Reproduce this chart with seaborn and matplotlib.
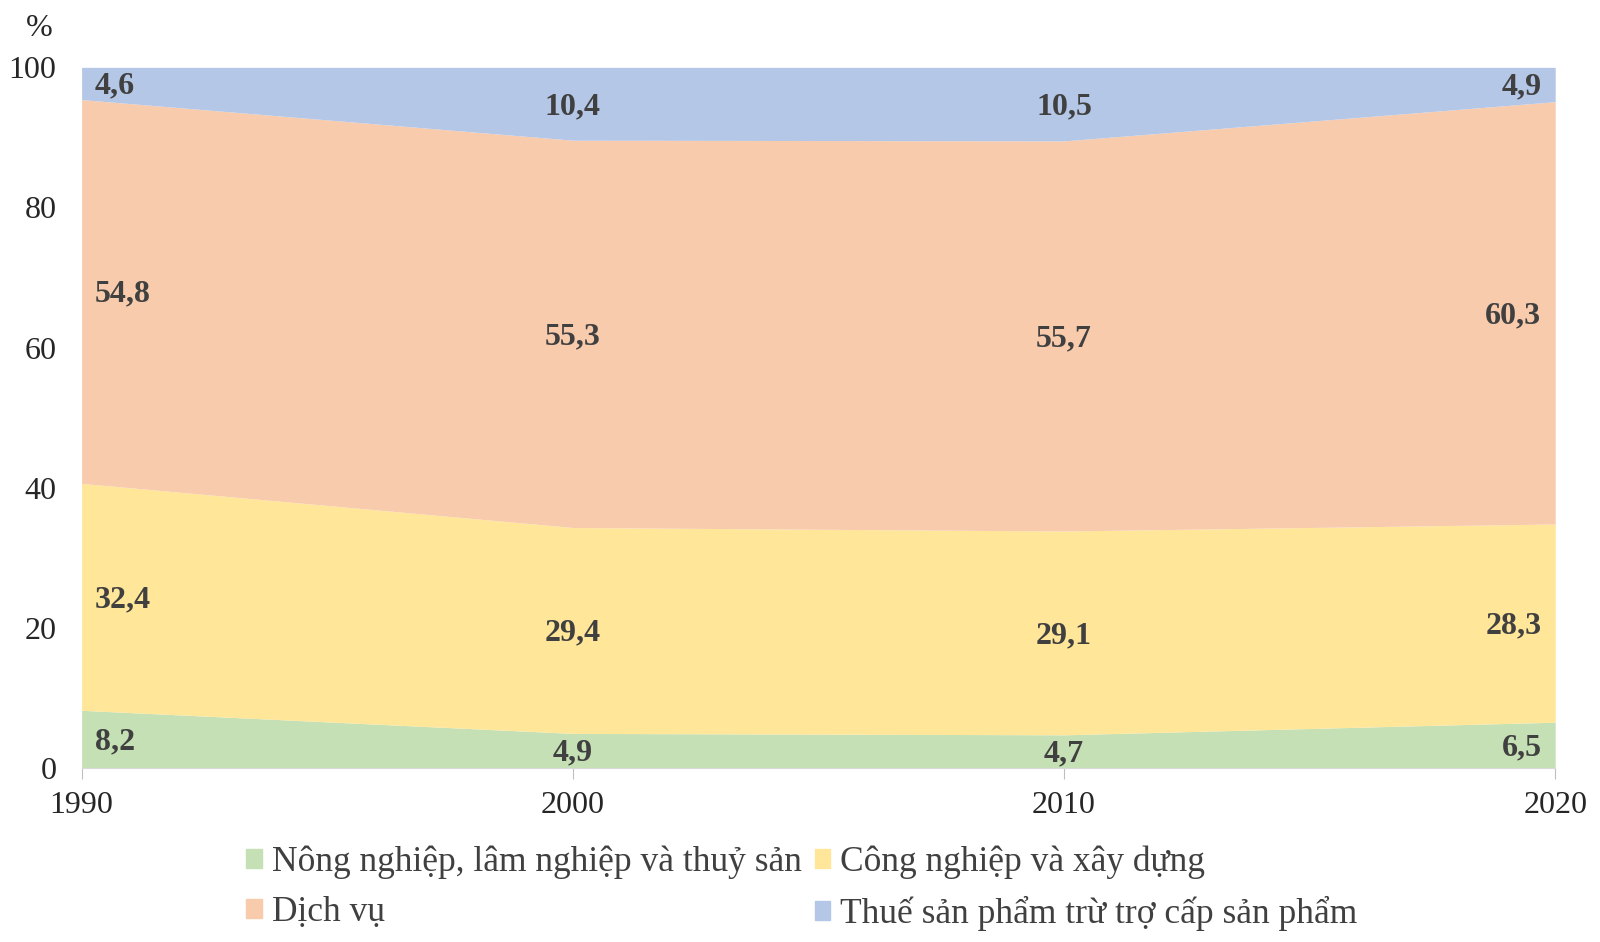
import seaborn as sns
import matplotlib
matplotlib.use('Agg')
import matplotlib.pyplot as plt
import matplotlib.patches as mpatches
import numpy as np

sns.set_style('white')
plt.rcParams['font.family'] = ['Liberation Serif', 'DejaVu Serif']

years = [1990, 2000, 2010, 2020]
nong_nghiep = [8.2, 4.9, 4.7, 6.5]
cong_nghiep = [32.4, 29.4, 29.1, 28.3]
dich_vu = [54.8, 55.3, 55.7, 60.3]
thue = [4.6, 10.4, 10.5, 4.9]

names = ['Nông nghiệp, lâm nghiệp và thuỷ sản', 'Công nghiệp và xây dựng',
         'Dịch vụ', 'Thuế sản phẩm trừ trợ cấp sản phẩm']
colors = ['#C5E0B4', '#FFE699', '#F8CBAD', '#B4C7E7']
series = [nong_nghiep, cong_nghiep, dich_vu, thue]

fig = plt.figure(figsize=(16, 9.42), dpi=100)
ax = fig.add_axes([0.051, 0.185, 0.921, 0.7435])
ax.stackplot(years, *series, colors=colors, linewidth=0)

ax.set_xlim(1990, 2020)
ax.set_ylim(0, 100)
ax.set_xticks(years)
ax.set_yticks(range(0, 101, 20))
ax.tick_params(axis='x', labelsize=23, length=8, color='#BFBFBF', direction='out', pad=9, bottom=True)
ax.tick_params(axis='y', labelsize=23, length=0, pad=18)
for s in ['top', 'right', 'left']:
    ax.spines[s].set_visible(False)
ax.spines['bottom'].set_color('#D9D9D9')
ax.text(-0.029, 1.035, '%', transform=ax.transAxes, fontsize=23, ha='center', va='bottom')

# value labels in the middle of each band
base = np.zeros(len(years))
for vals in series:
    vals = np.array(vals)
    mid = base + vals / 2
    for i, yr in enumerate(years):
        if i == 0:
            x, ha = yr + 0.27, 'left'
        elif i == len(years) - 1:
            x, ha = yr - 0.28, 'right'
        else:
            x, ha = yr, 'center'
        ax.text(x, mid[i] - 0.4, f'{vals[i]:.1f}'.replace('.', ','), ha=ha, va='center',
                fontsize=23, fontweight='bold', color='#404040')
    base = base + vals

handles = [mpatches.Patch(color=c, label=n) for c, n in zip(colors, names)]
order = [0, 2, 1, 3]
fig.legend([handles[i] for i in order], [names[i] for i in order], ncol=2,
           loc='upper left', bbox_to_anchor=(0.154, 0.102), frameon=False,
           fontsize=25.5, handlelength=0.45, handleheight=0.45, handletextpad=0.28,
           columnspacing=0.35, labelspacing=0.47, borderpad=0, borderaxespad=0,
           labelcolor='#404040')

fig.savefig('out.png', dpi=100)
